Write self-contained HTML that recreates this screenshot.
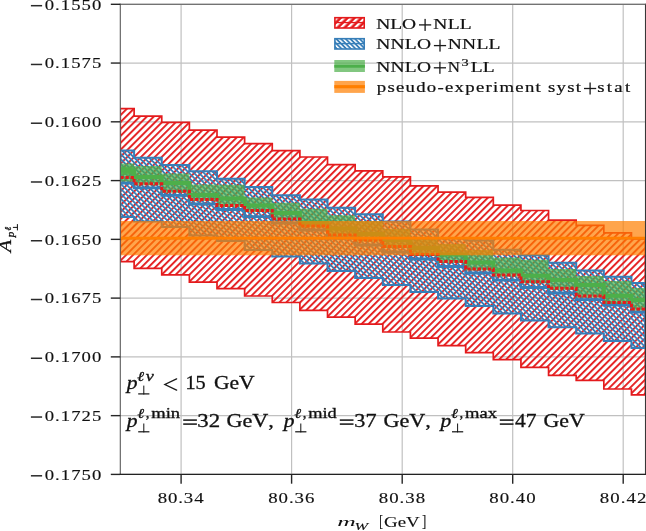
<!DOCTYPE html>
<html><head><meta charset="utf-8"><style>
html,body{margin:0;padding:0;background:#fff;}
svg{display:block;}
text{font-family:"Liberation Serif",serif;fill:#111;font-kerning:none;stroke:#111;stroke-width:0.3px;}
.it{font-style:italic;}
</style></head><body>
<svg width="646" height="531" viewBox="0 0 646 531">
<defs>
<pattern id="hr" patternUnits="userSpaceOnUse" width="4.8946" height="20" patternTransform="rotate(45) translate(-0.685,0)">
<rect x="0" y="0" width="1.85" height="20" fill="#e41a1c"/></pattern>
<pattern id="hb" patternUnits="userSpaceOnUse" width="3.5" height="20" patternTransform="rotate(-45)">
<rect x="0" y="0" width="1.8" height="20" fill="#377eb8"/></pattern>
<pattern id="hrl" patternUnits="userSpaceOnUse" width="4.6" height="20" patternTransform="rotate(45)">
<rect x="0" y="0" width="3.0" height="20" fill="#e41a1c"/></pattern>
<pattern id="hbl" patternUnits="userSpaceOnUse" width="4.2" height="20" patternTransform="rotate(-45)">
<rect x="0" y="0" width="2.9" height="20" fill="#377eb8"/></pattern>
<pattern id="wr" patternUnits="userSpaceOnUse" width="4.9" height="20" patternTransform="rotate(45)">
<rect x="0" y="0" width="2.3" height="20" fill="#fff"/></pattern>
<pattern id="wb" patternUnits="userSpaceOnUse" width="3.3" height="20" patternTransform="rotate(-45)">
<rect x="0" y="0" width="1.5" height="20" fill="#fff"/></pattern>
<clipPath id="cp"><rect x="120.3" y="4.3" width="525.0" height="470.09999999999997"/></clipPath>
</defs>
<rect width="646" height="531" fill="#fff"/>
<g stroke="#c0c0c0" stroke-width="1.2"><line x1="181.1" y1="4.3" x2="181.1" y2="474.4"/><line x1="291.6" y1="4.3" x2="291.6" y2="474.4"/><line x1="402.2" y1="4.3" x2="402.2" y2="474.4"/><line x1="512.7" y1="4.3" x2="512.7" y2="474.4"/><line x1="623.2" y1="4.3" x2="623.2" y2="474.4"/><line x1="120.3" y1="4.30" x2="645.3" y2="4.30"/><line x1="120.3" y1="63.06" x2="645.3" y2="63.06"/><line x1="120.3" y1="121.82" x2="645.3" y2="121.82"/><line x1="120.3" y1="180.59" x2="645.3" y2="180.59"/><line x1="120.3" y1="239.35" x2="645.3" y2="239.35"/><line x1="120.3" y1="298.11" x2="645.3" y2="298.11"/><line x1="120.3" y1="356.88" x2="645.3" y2="356.88"/><line x1="120.3" y1="415.64" x2="645.3" y2="415.64"/><line x1="120.3" y1="474.40" x2="645.3" y2="474.40"/></g>
<g clip-path="url(#cp)">
<path d="M120.30,108.60 H134.12 V116.10 H161.75 V122.40 H189.38 V130.20 H217.00 V137.10 H244.63 V143.60 H272.26 V150.60 H299.89 V157.00 H327.52 V164.60 H355.15 V170.80 H382.79 V176.90 H410.42 V185.80 H438.05 V192.10 H465.68 V197.30 H493.31 V205.10 H520.93 V210.50 H548.56 V220.20 H576.19 V225.40 H603.82 V232.80 H631.45 V239.00 H645.30 V394.90 H631.45 V389.00 H603.82 V380.40 H576.19 V375.30 H548.56 V367.30 H520.93 V359.70 H493.31 V352.60 H465.68 V345.70 H438.05 V338.20 H410.42 V332.00 H382.79 V324.20 H355.15 V317.10 H327.52 V310.30 H299.89 V302.50 H272.26 V296.00 H244.63 V288.60 H217.00 V282.10 H189.38 V274.80 H161.75 V268.30 H134.12 V261.70 H120.30 Z" fill="url(#hr)" stroke="#e41a1c" stroke-width="1.7"/>
<path d="M120.30,150.40 H134.12 V157.70 H161.75 V164.90 H189.38 V171.20 H217.00 V178.80 H244.63 V187.10 H272.26 V195.20 H299.89 V199.50 H327.52 V207.70 H355.15 V214.30 H382.79 V221.50 H410.42 V229.60 H438.05 V238.00 H465.68 V240.60 H493.31 V249.70 H520.93 V255.20 H548.56 V262.70 H576.19 V270.60 H603.82 V276.80 H631.45 V282.90 H645.30 V347.90 H631.45 V341.00 H603.82 V333.60 H576.19 V327.20 H548.56 V320.50 H520.93 V313.40 H493.31 V306.00 H465.68 V298.60 H438.05 V292.00 H410.42 V284.90 H382.79 V277.90 H355.15 V270.90 H327.52 V263.60 H299.89 V256.60 H272.26 V250.10 H244.63 V241.00 H217.00 V235.60 H189.38 V227.10 H161.75 V221.50 H134.12 V216.90 H120.30 Z" fill="url(#hb)" stroke="#377eb8" stroke-width="2"/>
<path d="M120.30,183.00 H134.12 V187.80 H161.75 V195.40 H189.38 V204.00 H217.00 V209.50 H244.63 V216.70 H272.26 V223.00 H299.89 V230.00 H327.52 V238.00 H355.15 V245.00 H382.79 V252.00 H410.42 V259.00 H438.05 V266.50 H465.68 V273.00 H493.31 V280.20 H520.93 V287.50 H548.56 V293.00 H576.19 V299.70 H603.82 V305.20 H631.45 V312.00 H645.30" fill="none" stroke="#377eb8" stroke-width="2.8"/>
<path d="M120.30,163.60 H134.12 V166.00 H161.75 V173.50 H189.38 V184.50 H217.00 V184.70 H244.63 V197.40 H272.26 V202.70 H299.89 V208.80 H327.52 V215.20 H355.15 V221.00 H382.79 V229.00 H410.42 V238.00 H438.05 V244.00 H465.68 V250.00 H493.31 V257.60 H520.93 V259.70 H548.56 V269.00 H576.19 V276.00 H603.82 V281.00 H631.45 V288.00 H645.30 V310.40 H631.45 V304.00 H603.82 V297.50 H576.19 V289.80 H548.56 V283.30 H520.93 V276.60 H493.31 V270.40 H465.68 V262.90 H438.05 V256.00 H410.42 V248.00 H382.79 V241.50 H355.15 V236.50 H327.52 V227.50 H299.89 V220.50 H272.26 V211.90 H244.63 V206.90 H217.00 V201.00 H189.38 V192.70 H161.75 V185.30 H134.12 V181.50 H120.30 Z" fill="#4daf4a" fill-opacity="0.7" stroke="none"/>
<path d="M120.30,170.50 H134.12 V177.00 H161.75 V183.00 H189.38 V195.00 H217.00 V198.60 H244.63 V205.50 H272.26 V213.10 H299.89 V222.50 H327.52 V228.50 H355.15 V234.00 H382.79 V240.00 H410.42 V248.00 H438.05 V254.50 H465.68 V262.50 H493.31 V270.50 H520.93 V275.80 H548.56 V280.00 H576.19 V285.00 H603.82 V295.70 H631.45 V300.00 H645.30" fill="none" stroke="#4daf4a" stroke-width="4"/>
<rect x="120.3" y="166.6" width="13.82" height="8.2" fill="#4daf4a" fill-opacity="0.85"/>
<path d="M120.30,177.40 H134.12 V183.80 H161.75 V191.20 H189.38 V199.50 H217.00 V205.40 H244.63 V210.40 H272.26 V219.00 H299.89 V226.00 H327.52 V235.00 H355.15 V240.00 H382.79 V246.50 H410.42 V254.50 H438.05 V261.40 H465.68 V268.90 H493.31 V275.10 H520.93 V281.80 H548.56 V288.30 H576.19 V296.00 H603.82 V302.50 H631.45 V308.90 H645.30" fill="none" stroke="#e41a1c" stroke-width="3" stroke-dasharray="3.4 1.7"/>
<rect x="120.3" y="221.0" width="525.0" height="34.3" fill="#ff7f00" fill-opacity="0.7"/>
<line x1="120.3" y1="238.1" x2="645.3" y2="238.1" stroke="#ff7f00" stroke-width="2.7"/>
</g>
<rect x="334.9" y="17.7" width="29.3" height="10.3" fill="#e41a1c"/>
<rect x="334.9" y="17.7" width="29.3" height="10.3" fill="url(#wr)"/>
<rect x="334.9" y="21.9" width="29.3" height="1.3" fill="#e41a1c"/>
<rect x="334.9" y="17.7" width="29.3" height="10.3" fill="none" stroke="#e41a1c" stroke-width="1.6"/>
<rect x="334.9" y="38.7" width="29.3" height="10.3" fill="#377eb8"/>
<rect x="334.9" y="38.7" width="29.3" height="10.3" fill="url(#wb)"/>
<rect x="334.9" y="42.9" width="29.3" height="1.4" fill="#377eb8"/>
<rect x="334.9" y="38.7" width="29.3" height="10.3" fill="none" stroke="#377eb8" stroke-width="1.6"/>
<rect x="334.3" y="60.0" width="30.6" height="12.0" fill="#4daf4a" fill-opacity="0.7"/>
<line x1="334.3" y1="66.3" x2="364.9" y2="66.3" stroke="#4daf4a" stroke-width="2.8"/>
<rect x="334.3" y="80.9" width="30.6" height="12.0" fill="#ff7f00" fill-opacity="0.7"/>
<line x1="334.3" y1="86.7" x2="364.9" y2="86.7" stroke="#ff7f00" stroke-width="3.2"/>
<g fill="none">
<line x1="120.3" y1="3.6999999999999997" x2="120.3" y2="475.0" stroke="#5a5a5a" stroke-width="1.1"/>
<line x1="645.6" y1="3.6999999999999997" x2="645.6" y2="475.0" stroke="#383838" stroke-width="1.3"/>
<line x1="119.7" y1="4.3" x2="646" y2="4.3" stroke="#5a5a5a" stroke-width="1.1"/>
<line x1="119.7" y1="474.4" x2="646" y2="474.4" stroke="#222" stroke-width="1.3"/>
</g>
<g stroke="#262626" stroke-width="1.4"><line x1="181.1" y1="474.4" x2="181.1" y2="483.7"/><line x1="291.6" y1="474.4" x2="291.6" y2="483.7"/><line x1="402.2" y1="474.4" x2="402.2" y2="483.7"/><line x1="512.7" y1="474.4" x2="512.7" y2="483.7"/><line x1="623.2" y1="474.4" x2="623.2" y2="483.7"/><line x1="110.8" y1="4.30" x2="120.3" y2="4.30"/><line x1="110.8" y1="63.06" x2="120.3" y2="63.06"/><line x1="110.8" y1="121.82" x2="120.3" y2="121.82"/><line x1="110.8" y1="180.59" x2="120.3" y2="180.59"/><line x1="110.8" y1="239.35" x2="120.3" y2="239.35"/><line x1="110.8" y1="298.11" x2="120.3" y2="298.11"/><line x1="110.8" y1="356.88" x2="120.3" y2="356.88"/><line x1="110.8" y1="415.64" x2="120.3" y2="415.64"/><line x1="110.8" y1="474.40" x2="120.3" y2="474.40"/></g>

<g style="opacity:0.999"><rect x="30.9" y="4.95" width="11.2" height="1.5" fill="#2a2a2a"/><text transform="translate(45.40,9.60) scale(1.24,1)" x="-0.58" y="0" style="font-size:15.1px;stroke-width:0.15px;letter-spacing:0.828px">0.1550</text><rect x="30.9" y="63.71" width="11.2" height="1.5" fill="#2a2a2a"/><text transform="translate(45.40,68.36) scale(1.24,1)" x="-0.58" y="0" style="font-size:15.1px;stroke-width:0.15px;letter-spacing:0.831px">0.1575</text><rect x="30.9" y="122.47" width="11.2" height="1.5" fill="#2a2a2a"/><text transform="translate(45.40,127.12) scale(1.24,1)" x="-0.58" y="0" style="font-size:15.1px;stroke-width:0.15px;letter-spacing:0.828px">0.1600</text><rect x="30.9" y="181.24" width="11.2" height="1.5" fill="#2a2a2a"/><text transform="translate(45.40,185.89) scale(1.24,1)" x="-0.58" y="0" style="font-size:15.1px;stroke-width:0.15px;letter-spacing:0.831px">0.1625</text><rect x="30.9" y="240.00" width="11.2" height="1.5" fill="#2a2a2a"/><text transform="translate(45.40,244.65) scale(1.24,1)" x="-0.58" y="0" style="font-size:15.1px;stroke-width:0.15px;letter-spacing:0.828px">0.1650</text><rect x="30.9" y="298.76" width="11.2" height="1.5" fill="#2a2a2a"/><text transform="translate(45.40,303.41) scale(1.24,1)" x="-0.58" y="0" style="font-size:15.1px;stroke-width:0.15px;letter-spacing:0.831px">0.1675</text><rect x="30.9" y="357.52" width="11.2" height="1.5" fill="#2a2a2a"/><text transform="translate(45.40,362.18) scale(1.24,1)" x="-0.58" y="0" style="font-size:15.1px;stroke-width:0.15px;letter-spacing:0.828px">0.1700</text><rect x="30.9" y="416.29" width="11.2" height="1.5" fill="#2a2a2a"/><text transform="translate(45.40,420.94) scale(1.24,1)" x="-0.58" y="0" style="font-size:15.1px;stroke-width:0.15px;letter-spacing:0.831px">0.1725</text><rect x="30.9" y="475.05" width="11.2" height="1.5" fill="#2a2a2a"/><text transform="translate(45.40,479.70) scale(1.24,1)" x="-0.58" y="0" style="font-size:15.1px;stroke-width:0.15px;letter-spacing:0.828px">0.1750</text><text transform="translate(158.40,503.00) scale(1.24,1)" x="-0.58" y="0" style="font-size:15.2px;stroke-width:0.15px;letter-spacing:0.707px">80.34</text><text transform="translate(268.90,503.00) scale(1.24,1)" x="-0.58" y="0" style="font-size:15.2px;stroke-width:0.15px;letter-spacing:0.760px">80.36</text><text transform="translate(379.50,503.00) scale(1.24,1)" x="-0.58" y="0" style="font-size:15.2px;stroke-width:0.15px;letter-spacing:0.792px">80.38</text><text transform="translate(490.00,503.00) scale(1.24,1)" x="-0.58" y="0" style="font-size:15.2px;stroke-width:0.15px;letter-spacing:0.792px">80.40</text><text transform="translate(600.50,503.00) scale(1.24,1)" x="-0.58" y="0" style="font-size:15.2px;stroke-width:0.15px;letter-spacing:0.857px">80.42</text><text transform="translate(376.80,28.80) scale(1.25,1)" x="-0.45" y="0" style="font-size:15.6px;stroke-width:0.22px;letter-spacing:-0.086px">NLO</text><rect x="419.00" y="24.25" width="12.2" height="1.3" fill="#1a1a1a"/><rect x="424.45" y="18.90" width="1.3" height="12.0" fill="#1a1a1a"/><text transform="translate(433.80,28.80) scale(1.25,1)" x="-0.45" y="0" style="font-size:15.6px;stroke-width:0.22px;letter-spacing:0.251px">NLL</text><text transform="translate(376.80,49.30) scale(1.25,1)" x="-0.45" y="0" style="font-size:15.6px;stroke-width:0.22px;letter-spacing:0.161px">NNLO</text><rect x="433.90" y="44.95" width="12.2" height="1.3" fill="#1a1a1a"/><rect x="439.35" y="39.60" width="1.3" height="12.0" fill="#1a1a1a"/><text transform="translate(448.30,49.30) scale(1.25,1)" x="-0.45" y="0" style="font-size:15.6px;stroke-width:0.22px;letter-spacing:0.199px">NNLL</text><text transform="translate(376.80,71.50) scale(1.25,1)" x="-0.45" y="0" style="font-size:15.6px;stroke-width:0.22px;letter-spacing:0.161px">NNLO</text><rect x="433.80" y="67.15" width="12.2" height="1.3" fill="#1a1a1a"/><rect x="439.25" y="61.80" width="1.3" height="12.0" fill="#1a1a1a"/><text x="447.81" y="71.50" style="font-size:15.6px;stroke-width:0.22px" textLength="12.17" lengthAdjust="spacingAndGlyphs">N</text><text x="461.62" y="65.50" style="font-size:10.3px;stroke-width:0.22px" textLength="7.14" lengthAdjust="spacingAndGlyphs">3</text><text transform="translate(471.40,71.50) scale(1.25,1)" x="-0.45" y="0" style="font-size:15.6px;stroke-width:0.22px;letter-spacing:-0.072px">LL</text><text transform="translate(377.10,92.20) scale(1.25,1)" x="-0.24" y="0" style="font-size:15.0px;stroke-width:0.22px;letter-spacing:1.015px">pseudo-experiment syst</text><rect x="584.00" y="87.85" width="12.2" height="1.3" fill="#1a1a1a"/><rect x="589.45" y="82.50" width="1.3" height="12.0" fill="#1a1a1a"/><text transform="translate(598.00,92.20) scale(1.25,1)" x="-0.62" y="0" style="font-size:15.0px;stroke-width:0.22px;letter-spacing:1.851px">stat</text><text x="126.76" y="389.20" class="it" style="font-size:19.3px" textLength="10.79" lengthAdjust="spacingAndGlyphs">p</text><text x="137.16" y="381.10" class="it" style="font-size:13.8px" textLength="6.92" lengthAdjust="spacingAndGlyphs">ℓ</text><text x="145.65" y="381.10" class="it" style="font-size:13.8px" textLength="8.05" lengthAdjust="spacingAndGlyphs">ν</text><path d="M143.80,385.60 V394.50" stroke="#111" stroke-width="1.0"/><path d="M138.20,393.90 H149.40" stroke="#111" stroke-width="1.2"/><path d="M176.6,378.9 L164.9,384.5 L176.6,390.1" fill="none" stroke="#1a1a1a" stroke-width="1.35" stroke-linecap="round" stroke-linejoin="miter"/><text x="185.42" y="389.30" style="font-size:19.3px" textLength="20.27" lengthAdjust="spacingAndGlyphs">15</text><text x="213.92" y="389.30" style="font-size:19.3px" textLength="40.73" lengthAdjust="spacingAndGlyphs">GeV</text><text x="126.76" y="427.20" class="it" style="font-size:19.3px" textLength="10.79" lengthAdjust="spacingAndGlyphs">p</text><text x="137.47" y="417.70" class="it" style="font-size:13.8px" textLength="6.71" lengthAdjust="spacingAndGlyphs">ℓ</text><text x="145.84" y="417.70" style="font-size:13.8px" textLength="3.69" lengthAdjust="spacingAndGlyphs">,</text><text x="151.21" y="417.70" style="font-size:13.8px" textLength="28.87" lengthAdjust="spacingAndGlyphs">min</text><path d="M143.80,423.50 V432.40" stroke="#111" stroke-width="1.0"/><path d="M138.20,431.80 H149.40" stroke="#111" stroke-width="1.2"/><rect x="183.20" y="419.30" width="13.70" height="1.6" fill="#222"/><rect x="183.20" y="423.30" width="13.70" height="1.6" fill="#222"/><text x="197.31" y="427.20" style="font-size:19.3px" textLength="22.85" lengthAdjust="spacingAndGlyphs">32</text><text x="226.49" y="427.20" style="font-size:19.3px" textLength="47.41" lengthAdjust="spacingAndGlyphs">GeV,</text><text x="283.76" y="427.20" class="it" style="font-size:19.3px" textLength="10.79" lengthAdjust="spacingAndGlyphs">p</text><text x="294.47" y="417.70" class="it" style="font-size:13.8px" textLength="6.71" lengthAdjust="spacingAndGlyphs">ℓ</text><text x="302.84" y="417.70" style="font-size:13.8px" textLength="3.69" lengthAdjust="spacingAndGlyphs">,</text><text x="308.22" y="417.70" style="font-size:13.8px" textLength="28.51" lengthAdjust="spacingAndGlyphs">mid</text><path d="M300.80,423.50 V432.40" stroke="#111" stroke-width="1.0"/><path d="M295.20,431.80 H306.40" stroke="#111" stroke-width="1.2"/><rect x="339.80" y="419.30" width="13.70" height="1.6" fill="#222"/><rect x="339.80" y="423.30" width="13.70" height="1.6" fill="#222"/><text x="354.34" y="427.20" style="font-size:19.3px" textLength="22.20" lengthAdjust="spacingAndGlyphs">37</text><text x="383.49" y="427.20" style="font-size:19.3px" textLength="47.41" lengthAdjust="spacingAndGlyphs">GeV,</text><text x="440.56" y="427.20" class="it" style="font-size:19.3px" textLength="10.79" lengthAdjust="spacingAndGlyphs">p</text><text x="451.27" y="417.70" class="it" style="font-size:13.8px" textLength="6.71" lengthAdjust="spacingAndGlyphs">ℓ</text><text x="459.64" y="417.70" style="font-size:13.8px" textLength="3.69" lengthAdjust="spacingAndGlyphs">,</text><text x="465.01" y="417.70" style="font-size:13.8px" textLength="32.02" lengthAdjust="spacingAndGlyphs">max</text><path d="M457.60,423.50 V432.40" stroke="#111" stroke-width="1.0"/><path d="M452.00,431.80 H463.20" stroke="#111" stroke-width="1.2"/><rect x="499.80" y="419.30" width="13.70" height="1.6" fill="#222"/><rect x="499.80" y="423.30" width="13.70" height="1.6" fill="#222"/><text x="514.98" y="427.20" style="font-size:19.3px" textLength="21.54" lengthAdjust="spacingAndGlyphs">47</text><text x="543.51" y="427.20" style="font-size:19.3px" textLength="41.14" lengthAdjust="spacingAndGlyphs">GeV</text><text x="337.27" y="526.40" class="it" style="font-size:13.2px;stroke-width:0.0px" textLength="18.50" lengthAdjust="spacingAndGlyphs">m</text><text x="354.43" y="529.80" class="it" style="font-size:9.5px;stroke-width:0.1px" textLength="13.54" lengthAdjust="spacingAndGlyphs">W</text><text x="379.37" y="527.20" style="font-size:16px;stroke-width:0.1px" textLength="3.74" lengthAdjust="spacingAndGlyphs">[</text><text x="384.02" y="527.20" style="font-size:14px;stroke-width:0.12px" textLength="35.69" lengthAdjust="spacingAndGlyphs">GeV</text><text x="421.93" y="527.20" style="font-size:16px;stroke-width:0.1px" textLength="4.34" lengthAdjust="spacingAndGlyphs">]</text><text transform="rotate(-90)" x="-252.29" y="11.30" class="it" style="font-size:17.0px" textLength="12.42" lengthAdjust="spacingAndGlyphs">A</text><text transform="rotate(-90)" x="-237.16" y="13.66" class="it" style="font-size:10.1px" textLength="5.49" lengthAdjust="spacingAndGlyphs">p</text><text transform="rotate(-90)" x="-230.79" y="11.10" class="it" style="font-size:9.2px" textLength="3.83" lengthAdjust="spacingAndGlyphs">ℓ</text><path d="M17.4,224.1 V230.4 M12.9,227.4 H17.4" stroke="#111" stroke-width="1.0" fill="none"/></g>
</svg>
</body></html>
